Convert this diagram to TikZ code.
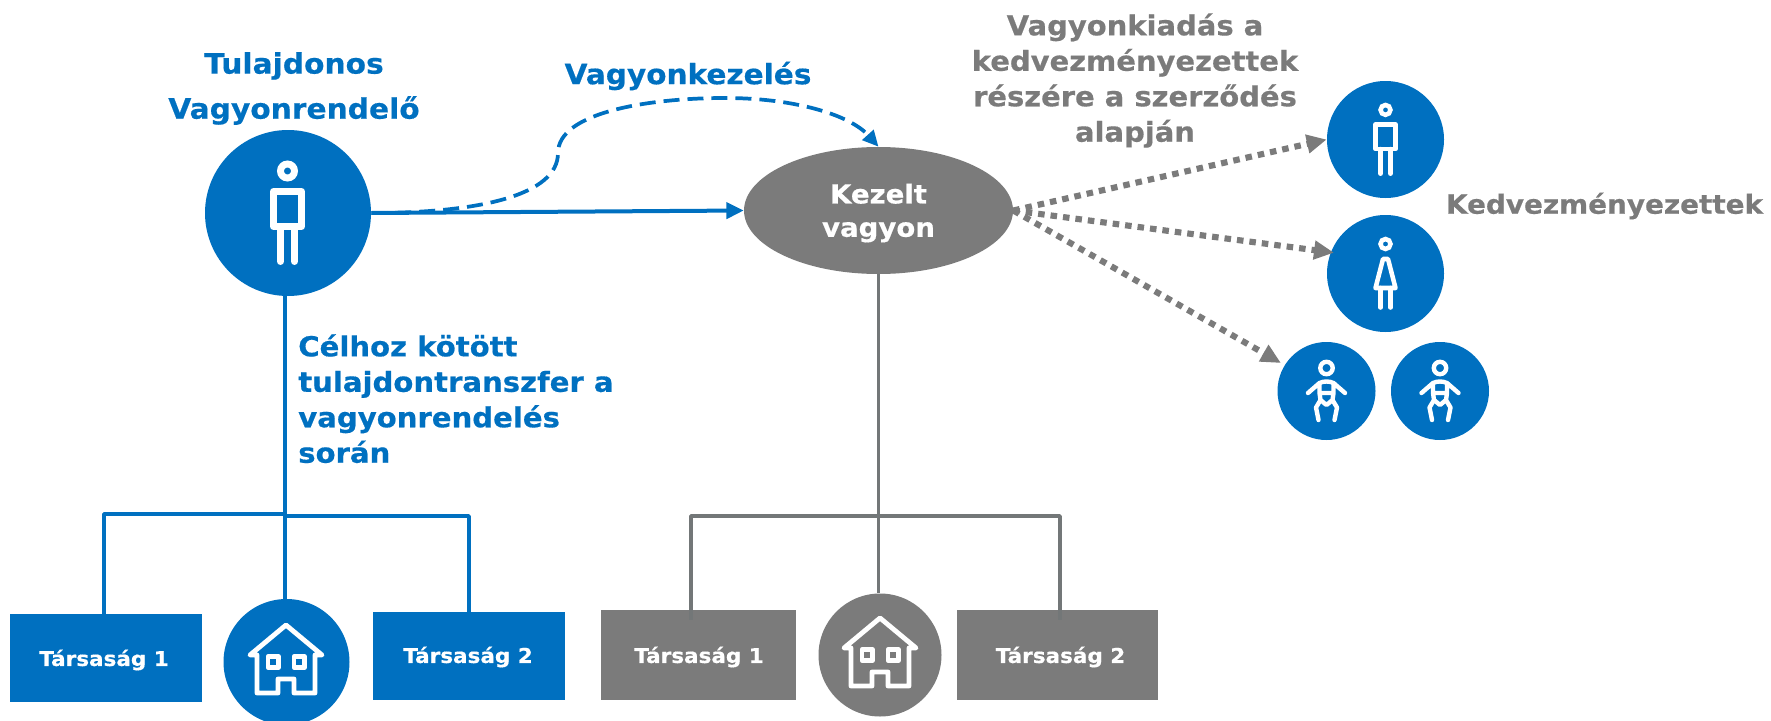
\documentclass[tikz,border=0pt]{standalone}
\usepackage{fontspec}
\setmainfont{DejaVu Sans}[BoldFeatures={FakeStretch=1.055,FakeBold=0.5}]
\usetikzlibrary{arrows.meta,shapes.geometric}
\definecolor{bl}{HTML}{0070C0}
\definecolor{gr}{HTML}{7B7B7B}
\definecolor{grline}{HTML}{737778}
\tikzset{
 x=0.75pt,y=-0.75pt,
 disc/.style={circle,fill=bl,draw=none,minimum size=#1*0.75pt,inner sep=0pt},
 boxb/.style={rectangle,fill=bl,draw=none,inner sep=0pt},
 boxg/.style={rectangle,fill=gr,draw=none,inner sep=0pt},
 lab/.style={font=\bfseries\fontsize{15.3}{18}\selectfont,text=white,inner sep=0pt},
 big/.style={font=\bfseries\fontsize{21}{27}\selectfont,inner sep=0pt},
 blueline/.style={draw=bl,line width=2.8pt,line join=round},
 grayline/.style={draw=grline,line width=2.8pt,line join=round},
 dots/.style={draw=gr,line width=4.6pt,dash pattern=on 4.9pt off 4.5pt,-{Triangle[length=15pt,width=13.5pt]}},
 person/.pic={
  \draw[white,line width=#1] (0,-42) circle (7);
  \draw[white,line width=#1,line join=round] (-14,-21.5) rectangle (14,13.5);
  \draw[white,line width=#1,line cap=round] (-7,13.5) -- (-7,48.5) (7,13.5) -- (7,48.5);
 },
 house/.pic={
  \draw[white,line width=3.6pt,line join=round,line cap=round]
    (-29,-7) -- (-36,-7) -- (0,-37) -- (36,-7) -- (29,-7) -- (29,31) -- (8,31) -- (8,17) -- (-8,17) -- (-8,31) -- (-29,31) -- cycle;
  \draw[white,line width=3.6pt,line join=round] (-18,-5.5) rectangle (-7.5,5.5) (8,-5.5) rectangle (18.5,5.5);
 },
 baby/.pic={
  \draw[white,line width=3.3pt] (0,-23) circle (6.2);
  \draw[white,line width=3.3pt,line cap=round,line join=round]
    (-18.5,2) -- (-7,-8) .. controls (-3,-10) and (3,-10) .. (7,-8) -- (18.5,2)
    (-7,-8) -- (-7,2) -- (-6,9) -- (0,14) -- (6,9) -- (7,2) -- (7,-8)
    (-7,2) -- (7,2)
    (-6,9) -- (-10.5,16.5) -- (-8,29)
    (6,9) -- (10.5,16.5) -- (8,29);
 }
}
\begin{document}
\begin{tikzpicture}
\useasboundingbox (0,0) rectangle (1771,721);
\clip (0,0) rectangle (1771,721);
% nodes
\node[disc=166] (owner) at (288,213) {};
\node[ellipse,fill=gr,minimum width=269*0.75pt,minimum height=127*0.75pt,inner sep=0pt] (kv) at (878.5,210.5) {};
\node[lab,align=center,font=\bfseries\fontsize{19.6}{25}\selectfont] (kvl) at (878.5,213) {Kezelt\\vagyon};
\node[disc=117] (b1) at (1385.5,139.5) {};
\node[disc=117] (b2) at (1385.5,273.5) {};
\node[disc=98] (b3) at (1326.5,391) {};
\node[disc=98] (b4) at (1440,391) {};
\node[boxb,minimum width=144pt,minimum height=66pt] (t1) at (106,658) {};
\node[boxb,minimum width=144pt,minimum height=66pt] (t2) at (469,656) {};
\node[disc=126] (h1) at (286.5,662) {};
\node[boxg,minimum width=146.25pt,minimum height=67.5pt] (g1) at (698.5,655) {};
\node[boxg,minimum width=150.75pt,minimum height=67.5pt] (g2) at (1057.5,655) {};
\node[circle,fill=gr,minimum size=123*0.75pt,inner sep=0pt] (h2) at (880,655) {};
\node[lab] (t1l) at (104,660) {Társaság 1};
\node[lab] (t2l) at (468,657) {Társaság 2};
\node[lab] (g1l) at (699,657) {Társaság 1};
\node[lab] (g2l) at (1060.5,657) {Társaság 2};
% icons
\pic at (287.5,213) {person=5.2pt};
\path (1385.5,139.5) pic[scale=.705] {person=3.4pt};
\begin{scope}[shift={(1385.5,273.5)}]
 \draw[white,line width=3.4pt] (0,-29.5) circle (5);
 \draw[white,line width=3.4pt,line join=round] (-2.5,-14.5) -- (2.5,-14.5) -- (10,14.5) -- (-10,14.5) -- cycle;
 \draw[white,line width=3.4pt,line cap=round] (-5,14.5) -- (-5,34) (5,14.5) -- (5,34);
\end{scope}
\pic at (1326.5,391) {baby};
\pic at (1440,391) {baby};
\pic at (286,662) {house};
\pic at (880,655) {house};
% connectors
\coordinate (j1) at (285,514);
\coordinate (j1r) at (285,516);
\coordinate (j2) at (878.5,516);
\coordinate (tl) at (104,614);
\coordinate (glx) at (691,620);
\coordinate (grx) at (1060,620);
\draw[blueline] (owner.south -| j1) -- (h1.north -| j1);
\draw[blueline] (j1) -| (tl);
\draw[blueline] (j1r) -| (t2.north);
\draw[grayline] (kv.south) -- (h2.north -| kv.south);
\draw[grayline] (j2) -| (glx);
\draw[grayline] (j2) -| (grx);
\draw[blueline,line width=3pt,-{Triangle[length=13pt,width=12pt]}] (owner.east) -- (kv.west);
\draw[blueline,dash pattern=on 12pt off 6pt,-{Triangle[length=12pt,width=11pt]}] (owner.east) .. controls (480,213) and (558,195) .. (558,153) .. controls (558,112) and (650,98) .. (725,98) .. controls (795,98) and (850,115) .. (kv.north);
\draw[dots] (kv.east) -- (b1.west);
\draw[dots] (kv.east) -- (1334,252.7) coordinate (b2tip);
\draw[dots] (kv.east) -- (1281,363) coordinate (b3tip);
% text
\node[big,text=bl,align=center,font=\bfseries\fontsize{21.1}{33.8}\selectfont] (own) at (294,88.5) {Tulajdonos\\Vagyonrendelő};
\node[big,text=bl] (vk) at (688,76) {Vagyonkezelés};
\node[big,text=bl,align=left,anchor=north west,font=\bfseries\fontsize{20.7}{26.6}\selectfont] (cel) at (298,334) {Célhoz kötött\\tulajdontranszfer a\\vagyonrendelés\\során};
\node[big,text=gr,align=center,font=\bfseries\fontsize{20.6}{26.6}\selectfont] (vki) at (1135,80.5) {Vagyonkiadás a\\kedvezményezettek\\részére a szerződés\\alapján};
\node[big,text=gr,font=\bfseries\fontsize{19.8}{22}\selectfont] (kedv) at (1604.5,206) {Kedvezményezettek};
\end{tikzpicture}
\end{document}
